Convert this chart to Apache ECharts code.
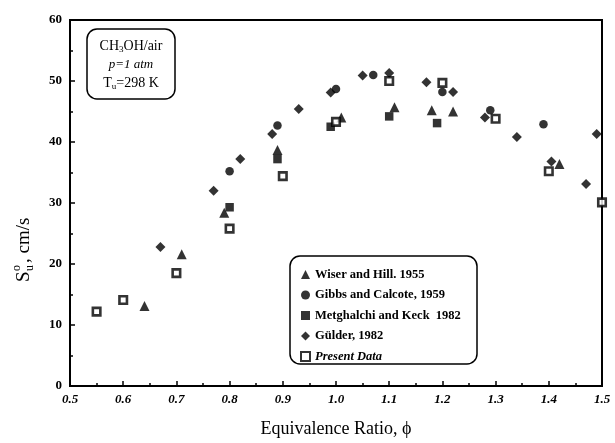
<!DOCTYPE html>
<html>
<head>
<meta charset="utf-8">
<script src="https://cdn.jsdelivr.net/npm/echarts@6/dist/echarts.min.js"></script>
<style>
  html, body { margin: 0; padding: 0; background: #fff; }
  #chart { width: 615px; height: 443px; }
</style>
</head>
<body>
<div id="chart"></div>
<script>
// Laminar burning velocity of methanol/air, p = 1 atm, Tu = 298 K
const xTicks = [0.5, 0.6, 0.7, 0.8, 0.9, 1.0, 1.1, 1.2, 1.3, 1.4, 1.5];
const yTicks = [0, 10, 20, 30, 40, 50, 60];

const wiserHill = [
  [0.64, 13.1], [0.71, 21.6], [0.79, 28.4], [0.89, 38.7], [1.01, 44.0],
  [1.11, 45.7], [1.18, 45.2], [1.22, 45.0], [1.42, 36.4]
];
const gibbsCalcote = [
  [0.80, 35.2], [0.89, 42.7], [1.00, 48.7], [1.07, 51.0], [1.20, 48.2],
  [1.29, 45.2], [1.39, 42.9]
];
const metghalchiKeck = [
  [0.80, 29.3], [0.89, 37.2], [0.99, 42.5], [1.10, 44.2], [1.19, 43.1]
];
const gulder = [
  [0.67, 22.8], [0.77, 32.0], [0.82, 37.2], [0.88, 41.3], [0.93, 45.4],
  [0.99, 48.1], [1.05, 50.9], [1.10, 51.3], [1.17, 49.8], [1.22, 48.2],
  [1.28, 44.0], [1.34, 40.8], [1.405, 36.8], [1.47, 33.1], [1.49, 41.3]
];
const presentData = [
  [0.55, 12.2], [0.60, 14.1], [0.70, 18.5], [0.80, 25.8], [0.90, 34.4],
  [1.00, 43.3], [1.10, 50.0], [1.20, 49.7], [1.30, 43.8], [1.40, 35.2],
  [1.50, 30.1]
];

const serif = '"Liberation Serif", "DejaVu Serif", serif';
const chart = echarts.init(document.getElementById('chart'));

chart.setOption({
  animation: false,
  backgroundColor: '#fff',
  grid: {
    left: 70, right: 13, top: 20, bottom: 57,
    show: true, borderColor: '#000', borderWidth: 2
  },
  xAxis: {
    type: 'value', min: 0.5, max: 1.5, interval: 0.1,
    axisLine: { lineStyle: { color: '#000', width: 2 } },
    axisTick: { inside: true, length: 5, lineStyle: { color: '#000', width: 1.5 } },
    minorTick: { show: true, splitNumber: 2, length: 3, lineStyle: { color: '#000', width: 1.5 } },
    splitLine: { show: false },
    axisLabel: {
      color: '#000', fontFamily: serif, fontSize: 13, fontWeight: 'bold', fontStyle: 'italic',
      margin: 7,
      formatter: v => v.toFixed(1)
    },
    name: 'Equivalence Ratio, ϕ',
    nameLocation: 'middle', nameGap: 34,
    nameTextStyle: { color: '#000', fontFamily: serif, fontSize: 18 }
  },
  yAxis: {
    type: 'value', min: 0, max: 60, interval: 10,
    axisLine: { lineStyle: { color: '#000', width: 2 } },
    axisTick: { inside: true, length: 5, lineStyle: { color: '#000', width: 1.5 } },
    minorTick: { show: true, splitNumber: 2, length: 3, lineStyle: { color: '#000', width: 1.5 } },
    splitLine: { show: false },
    axisLabel: {
      color: '#000', fontFamily: serif, fontSize: 13, fontWeight: 'bold', margin: 8
    }
  },
  legend: {
    orient: 'vertical', left: 295, top: 263,
    itemWidth: 9, itemHeight: 9, itemGap: 7.5,
    textStyle: { color: '#000', fontFamily: serif, fontSize: 12.5, fontWeight: 'bold', lineHeight: 13 },
    data: [
      { name: 'Wiser and Hill. 1955' },
      { name: 'Gibbs and Calcote, 1959' },
      { name: 'Metghalchi and Keck  1982' },
      { name: 'Gülder, 1982' },
      { name: 'Present Data', textStyle: { fontStyle: 'italic' } }
    ]
  },
  graphic: [
    // legend frame
    { type: 'rect', z: 0, shape: { x: 290, y: 256, width: 187, height: 108, r: 10 },
      style: { fill: 'none', stroke: '#000', lineWidth: 1.5 } },
    // conditions box
    { type: 'rect', shape: { x: 87, y: 29, width: 88, height: 70, r: 10 },
      style: { fill: '#fff', stroke: '#000', lineWidth: 1.5 } },
    { type: 'text', x: 131, y: 46,
      style: { text: 'CH{s|3}OH/air', x: 0, y: 0, align: 'center', verticalAlign: 'middle',
        fill: '#000', font: '14px ' + serif,
        rich: { s: { fontSize: 9, fontFamily: serif, padding: [8, 0, 0, 0] } } } },
    { type: 'text', x: 131, y: 65,
      style: { text: 'p=1 atm', align: 'center', verticalAlign: 'middle',
        fill: '#000', font: 'italic 13px ' + serif } },
    { type: 'text', x: 131, y: 83,
      style: { text: 'T{s|u}=298 K', align: 'center', verticalAlign: 'middle',
        fill: '#000', font: '14px ' + serif,
        rich: { s: { fontSize: 9, fontFamily: serif, padding: [8, 0, 0, 0] } } } },
    // y-axis title: S with sub u and sup o
    { type: 'group', x: 24, y: 220, rotation: Math.PI / 2,
      children: [
        { type: 'text', x: -62, y: 0,
          style: { text: 'S', verticalAlign: 'middle', fill: '#000', font: '19px ' + serif } },
        { type: 'text', x: -51, y: -7,
          style: { text: 'o', verticalAlign: 'middle', fill: '#000', font: '12px ' + serif } },
        { type: 'text', x: -51, y: 6,
          style: { text: 'u', verticalAlign: 'middle', fill: '#000', font: '12px ' + serif } },
        { type: 'text', x: -43, y: 0,
          style: { text: ', cm/s', verticalAlign: 'middle', fill: '#000', font: '19px ' + serif } }
      ] }
  ],
  series: [
    { name: 'Wiser and Hill. 1955', type: 'scatter', data: wiserHill,
      symbol: 'triangle', symbolSize: 10, itemStyle: { color: '#000' } },
    { name: 'Gibbs and Calcote, 1959', type: 'scatter', data: gibbsCalcote,
      symbol: 'circle', symbolSize: 8.5, itemStyle: { color: '#000' } },
    { name: 'Metghalchi and Keck  1982', type: 'scatter', data: metghalchiKeck,
      symbol: 'rect', symbolSize: 8.5, itemStyle: { color: '#000' } },
    { name: 'Gülder, 1982', type: 'scatter', data: gulder,
      symbol: 'diamond', symbolSize: 10, itemStyle: { color: '#000' } },
    { name: 'Present Data', type: 'scatter', data: presentData,
      symbol: 'rect', symbolSize: 7.5,
      itemStyle: { color: '#fff', borderColor: '#000', borderWidth: 2.6 } }
  ]
});
</script>
</body>
</html>
